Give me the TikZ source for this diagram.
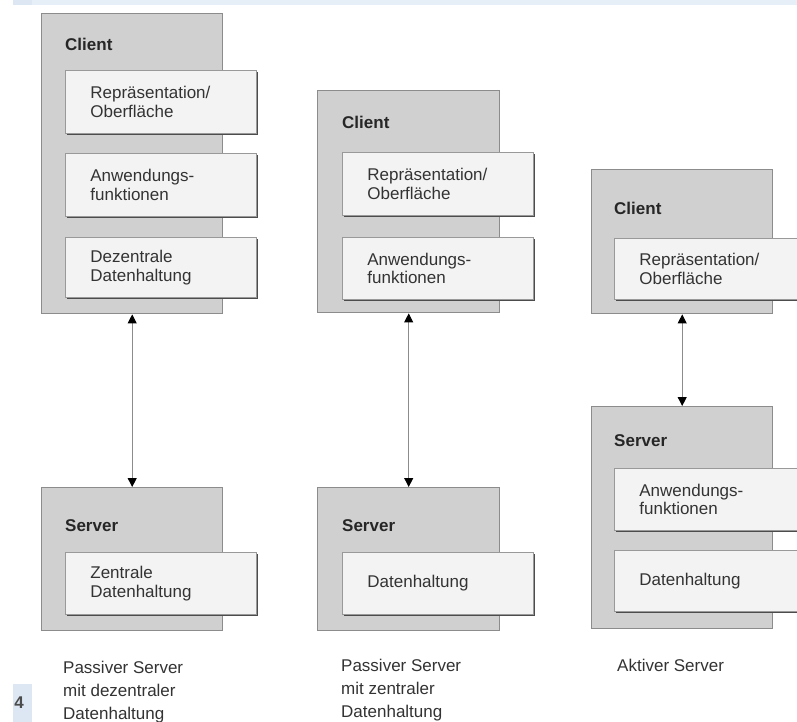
\documentclass[tikz,border=0pt]{standalone}
\usepackage{fontspec}
\setmainfont{Liberation Sans}
\usepackage{xcolor}
\usepackage{tikz}
\usetikzlibrary{positioning,arrows.meta,shadows}

\definecolor{tierfill}{HTML}{D0D0D0}
\definecolor{tierline}{HTML}{8C8C8C}
\definecolor{layerfill}{HTML}{F3F3F3}
\definecolor{pageblue}{HTML}{E6EEF7}
\definecolor{tabblue}{HTML}{DCE7F3}

\begin{document}
\begin{tikzpicture}[x=1pt,y=-1pt,
    tier/.style={draw=tierline,line width=1.4pt,fill=tierfill,anchor=north west,
      minimum width=181pt,inner sep=0pt},
    layer/.style={draw=black!40,line width=0.8pt,fill=layerfill,anchor=north west,
      general shadow={fill=black!70,shadow xshift=1.6pt,shadow yshift=-1.6pt},
      minimum width=191pt,text width=141pt,inner xsep=25pt,inner ysep=0pt,align=left,
      text=black!80,font=\fontsize{17}{18.5}\selectfont},
    title/.style={anchor=base west,inner sep=0pt,font=\fontsize{17}{18}\selectfont\bfseries,text=black!85},
    caption/.style={anchor=base west,inner sep=0pt,align=left,text=black!80,
      font=\fontsize{17}{23}\selectfont},
    link/.style={draw=black!45,line width=0.9pt,
      {Triangle[width=9pt,length=9pt,color=black]}-{Triangle[width=9pt,length=9pt,color=black]}}]
  \useasboundingbox (0,0) rectangle (797,722);
  \fill[white] (0,0) rectangle (797,722);
  % page edges
  \fill[pageblue] (13,0) rectangle (797,5);
  \fill[tabblue] (13,0) rectangle (32,5);
  \fill[tabblue] (13,684) rectangle (32,722);
  \node[font=\fontsize{17}{18}\selectfont\bfseries,text=black!70,inner sep=0pt] (page) at (19,703) {4};

  % passiver Server, dezentrale Datenhaltung
  \node[tier,minimum height=300pt] (c1) at (41,13) {};
  \node[title] (c1t) at (65,51) {Client};
  \node[layer,minimum height=63pt] (c1a) at (65,70) {Repräsentation/\\Oberfläche};
  \node[layer,minimum height=63pt] (c1b) at (65,153) {Anwendungs-\\funktionen};
  \node[layer,minimum height=60pt] (c1c) at (65,237) {Dezentrale\\Datenhaltung};
  \node[tier,minimum height=143pt] (s1) at (41,487) {};
  \node[title] (s1t) at (65,531) {Server};
  \node[layer,minimum height=62pt] (s1a) at (65,552) {Zentrale\\Datenhaltung};
  \draw[link] (c1.south) -- (s1.north);
  % caption anchored at its last baseline
  \node[caption] (l1) at (63,719) {Passiver Server\\mit dezentraler\\Datenhaltung};

  % passiver Server, zentrale Datenhaltung
  \node[tier,minimum width=182pt,minimum height=222pt] (c2) at (317,90) {};
  \node[title] (c2t) at (342,129) {Client};
  \node[layer,minimum height=63pt] (c2a) at (342,152) {Repräsentation/\\Oberfläche};
  \node[layer,minimum height=62pt] (c2b) at (342,237) {Anwendungs-\\funktionen};
  \node[tier,minimum width=182pt,minimum height=143pt] (s2) at (317,487) {};
  \node[title] (s2t) at (342,531) {Server};
  \node[layer,minimum height=62pt] (s2a) at (342,552) {Datenhaltung};
  \draw[link] (c2.south) -- (s2.north);
  \node[caption] (l2) at (341,717) {Passiver Server\\mit zentraler\\Datenhaltung};

  % aktiver Server
  \node[tier,minimum height=144pt] (c3) at (591,169) {};
  \node[title] (c3t) at (614,214) {Client};
  \node[layer,minimum height=61pt] (c3a) at (614,238) {Repräsentation/\\Oberfläche};
  \node[tier,minimum height=222pt] (s3) at (591,406) {};
  \node[title] (s3t) at (614,446) {Server};
  \node[layer,minimum height=62pt] (s3a) at (614,468) {Anwendungs-\\funktionen};
  \node[layer,minimum height=61pt] (s3b) at (614,550) {Datenhaltung};
  \draw[link] (c3.south) -- (s3.north);
  \node[caption] (l3) at (617,671) {Aktiver Server};
\end{tikzpicture}
\end{document}
